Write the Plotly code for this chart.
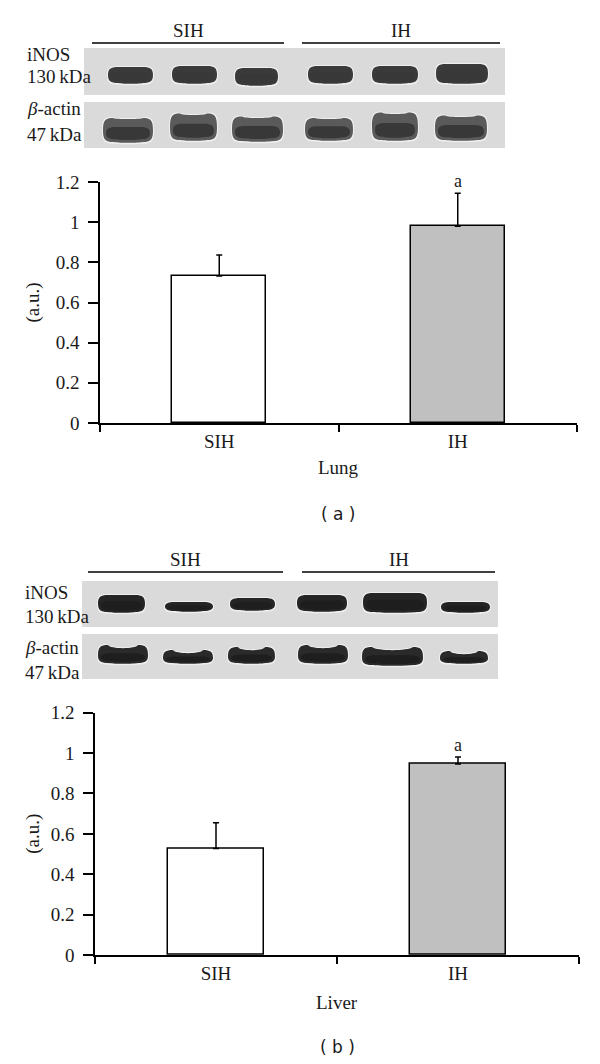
import plotly.graph_objects as go

# the page puts the figure 8px in from the top-left corner
OFF = 8
W, H = 600 - OFF, 1064 - OFF

# bar chart data
groups = ["SIH", "IH"]
lung_values = [0.732, 0.98]
lung_errors = [0.105, 0.164]
liver_values = [0.528, 0.946]
liver_errors = [0.127, 0.035]
significance = ["", "a"]
bar_colors = ["white", "#c0c0c0"]

SERIF = "Liberation Serif"
SANS = "DejaVu Sans"
INK = "#1a1a1a"


def px(x, y):
    # window pixel -> paper coords
    return (x - OFF) / W, 1 - (y - OFF) / H


def band_path(x0, x1, y0, y1, bow=0.0):
    # rounded blob for a western blot band, bow > 0 raises the ends of the top edge
    cy = (y0 + y1) / 2
    cx = (x0 + x1) / 2
    w = x1 - x0
    e = min(5, w / 8)
    top_end = y0 - bow
    pts = [
        ("M", [(x0, cy)]),
        ("C", [(x0, top_end + 2), (x0 + e * 0.5, top_end), (x0 + 2 * e, top_end)]),
        ("C", [(cx - w / 4, y0 + bow * 0.4), (cx + w / 4, y0 + bow * 0.4), (x1 - 2 * e, top_end)]),
        ("C", [(x1 - e * 0.5, top_end), (x1, top_end + 2), (x1, cy)]),
        ("C", [(x1, y1 - 2), (x1 - e * 0.5, y1), (x1 - 2 * e, y1)]),
        ("C", [(cx + w / 4, y1 + 1), (cx - w / 4, y1 + 1), (x0 + 2 * e, y1)]),
        ("C", [(x0 + e * 0.5, y1), (x0, y1 - 2), (x0, cy)]),
    ]
    out = []
    for cmd, ps in pts:
        coords = " ".join("%.5f,%.5f" % px(a, b) for a, b in ps)
        out.append(cmd + " " + coords)
    return " ".join(out) + " Z"


def label(x, y, text, size=19, family=SERIF, xanchor="center", angle=0):
    lx, ly = px(x, y)
    return dict(x=lx, y=ly, xref="paper", yref="paper", text=text, showarrow=False,
                xanchor=xanchor, yanchor="middle", textangle=angle,
                font=dict(family=family, size=size, color=INK))


# blot image layout (pixels): group line + label, two strips with bands
BLOTS = [
    dict(
        sih_line=(92, 284, 43), ih_line=(302, 500, 43), label_y=31,
        strip_x=(84, 505), inos_y=(48, 95), actin_y=(102, 148),
        text_x=25, text_y=[54, 77, 108, 134],
        inos_color="#3a3a3a", actin_color="#5a5a5a", core_color="#383838",
        inos=[(108, 153, 67, 83), (172, 217, 66, 83), (235, 278, 68, 85),
              (308, 353, 66, 83), (372, 418, 66, 83), (436, 488, 64, 83)],
        actin=[(103, 153, 119, 142), (170, 217, 115, 140), (232, 283, 118, 141),
               (305, 353, 119, 140), (372, 418, 114, 140), (435, 487, 117, 140)],
        bow=[1, 1.5, 1.5, 1, 1.5, 1.5],
    ),
    dict(
        sih_line=(88, 283, 572), ih_line=(302, 495, 572), label_y=559,
        strip_x=(82, 498), inos_y=(581, 627), actin_y=(634, 679),
        text_x=23, text_y=[592, 616, 647, 672],
        inos_color="#252525", actin_color="#2a2a2a", core_color="#1e1e1e",
        inos=[(98, 145, 595, 612), (165, 213, 602, 611), (230, 275, 598, 610),
              (297, 347, 595, 611), (363, 427, 593, 612), (441, 490, 602, 612)],
        actin=[(98, 148, 648, 663), (163, 213, 653, 663), (228, 275, 650, 663),
               (298, 348, 648, 663), (362, 423, 650, 665), (440, 488, 654, 663)],
        bow=[3, 3, 3, 3, 3, 3],
    ),
]

# chart areas (pixels)
PANELS = [
    dict(x=(100, 577), y=(182, 423), values=lung_values, errors=lung_errors,
         organ="Lung", organ_y=468, tag="( a )", tag_y=514),
    dict(x=(95, 579), y=(712.7, 955), values=liver_values, errors=liver_errors,
         organ="Liver", organ_y=1002, tag="( b )", tag_y=1047),
]

fig = go.Figure()
shapes = []
annotations = []

for i, p in enumerate(PANELS):
    n = "" if i == 0 else str(i + 1)
    fig.add_trace(go.Bar(
        x=groups, y=p["values"],
        marker=dict(color=bar_colors, line=dict(color="black", width=1.5)),
        width=0.395,
        error_y=dict(type="data", array=p["errors"], arrayminus=[0, 0],
                     symmetric=False, color="black", thickness=1.5, width=3),
        xaxis="x" + n, yaxis="y" + n, showlegend=False, hoverinfo="y",
    ))
    x0, y0 = px(p["x"][0], p["y"][1])
    x1, y1 = px(p["x"][1], p["y"][0])
    fig.update_layout(**{
        "xaxis" + n: dict(
            domain=[x0, x1], anchor="y" + n, range=[-0.5, 1.5],
            showline=True, linecolor="black", linewidth=1.5,
            ticks="outside", ticklen=7, tickwidth=1.5, tickcolor="black",
            tickson="boundaries", showgrid=False, zeroline=False,
            tickfont=dict(family=SERIF, size=19, color=INK), automargin=False,
        ),
        "yaxis" + n: dict(
            domain=[y0, y1], anchor="x" + n, range=[0, 1.2],
            tickvals=[0, 0.2, 0.4, 0.6, 0.8, 1, 1.2],
            ticktext=["0", "0.2", "0.4", "0.6", "0.8", "1", "1.2"],
            showline=True, linecolor="black", linewidth=1.5,
            ticks="outside", ticklen=10, tickwidth=1.5, tickcolor="black",
            ticklabelstandoff=5, showgrid=False, zeroline=False,
            tickfont=dict(family=SERIF, size=19, color=INK), automargin=False,
        ),
    })
    for g, v, e, s in zip(groups, p["values"], p["errors"], significance):
        if s:
            annotations.append(dict(
                x=g, y=v + e, xref="x" + n, yref="y" + n, text=s, showarrow=False,
                xanchor="center", yanchor="bottom", yshift=0,
                font=dict(family=SERIF, size=18, color=INK),
            ))
    mid_x = (p["x"][0] + p["x"][1]) / 2
    annotations.append(label(33, (p["y"][0] + p["y"][1]) / 2, "(a.u.)", angle=-90))
    annotations.append(label(mid_x, p["organ_y"], p["organ"]))
    annotations.append(label(mid_x, p["tag_y"], p["tag"], size=17, family=SANS))

for b in BLOTS:
    for (x0, x1, y), lab in [(b["sih_line"], "SIH"), (b["ih_line"], "IH")]:
        a0, c0 = px(x0, y)
        a1, c1 = px(x1, y)
        shapes.append(dict(type="line", xref="paper", yref="paper", x0=a0, x1=a1, y0=c0, y1=c1,
                           line=dict(color="black", width=1.3)))
        annotations.append(label((x0 + x1) / 2, b["label_y"], lab))
    for (y0, y1) in [b["inos_y"], b["actin_y"]]:
        a0, c0 = px(b["strip_x"][0], y0)
        a1, c1 = px(b["strip_x"][1], y1)
        shapes.append(dict(type="rect", xref="paper", yref="paper", x0=a0, x1=a1, y0=c1, y1=c0,
                           fillcolor="#dadada", line=dict(width=0), layer="below"))
    rows = [(b["inos"], b["inos_color"], [0] * 6), (b["actin"], b["actin_color"], b["bow"])]
    for bands, color, bows in rows:
        for (x0, x1, y0, y1), bow in zip(bands, bows):
            shapes.append(dict(type="path", xref="paper", yref="paper",
                               path=band_path(x0 - 1, x1 + 1, y0 - 1, y1 + 1.5, bow),
                               fillcolor="#efefef", line=dict(width=0)))
            shapes.append(dict(type="path", xref="paper", yref="paper",
                               path=band_path(x0, x1, y0, y1, bow),
                               fillcolor=color, line=dict(width=0)))
            # darker core in the lower half of each band
            h = y1 - y0
            shapes.append(dict(type="path", xref="paper", yref="paper",
                               path=band_path(x0 + 3, x1 - 3, y0 + h * 0.35, y1 - h * 0.12),
                               fillcolor=b["core_color"], line=dict(width=0)))
    texts = ["iNOS", "130\u2009kDa", "<i>β</i>-actin", "47\u2009kDa"]
    for t, ty in zip(texts, b["text_y"]):
        annotations.append(label(b["text_x"], ty, t, xanchor="left"))

fig.update_layout(
    width=W, height=H,
    margin=dict(l=0, r=0, t=0, b=0),
    paper_bgcolor="white", plot_bgcolor="white",
    shapes=shapes, annotations=annotations,
    bargap=0, showlegend=False,
)

fig.write_html("out.html")
